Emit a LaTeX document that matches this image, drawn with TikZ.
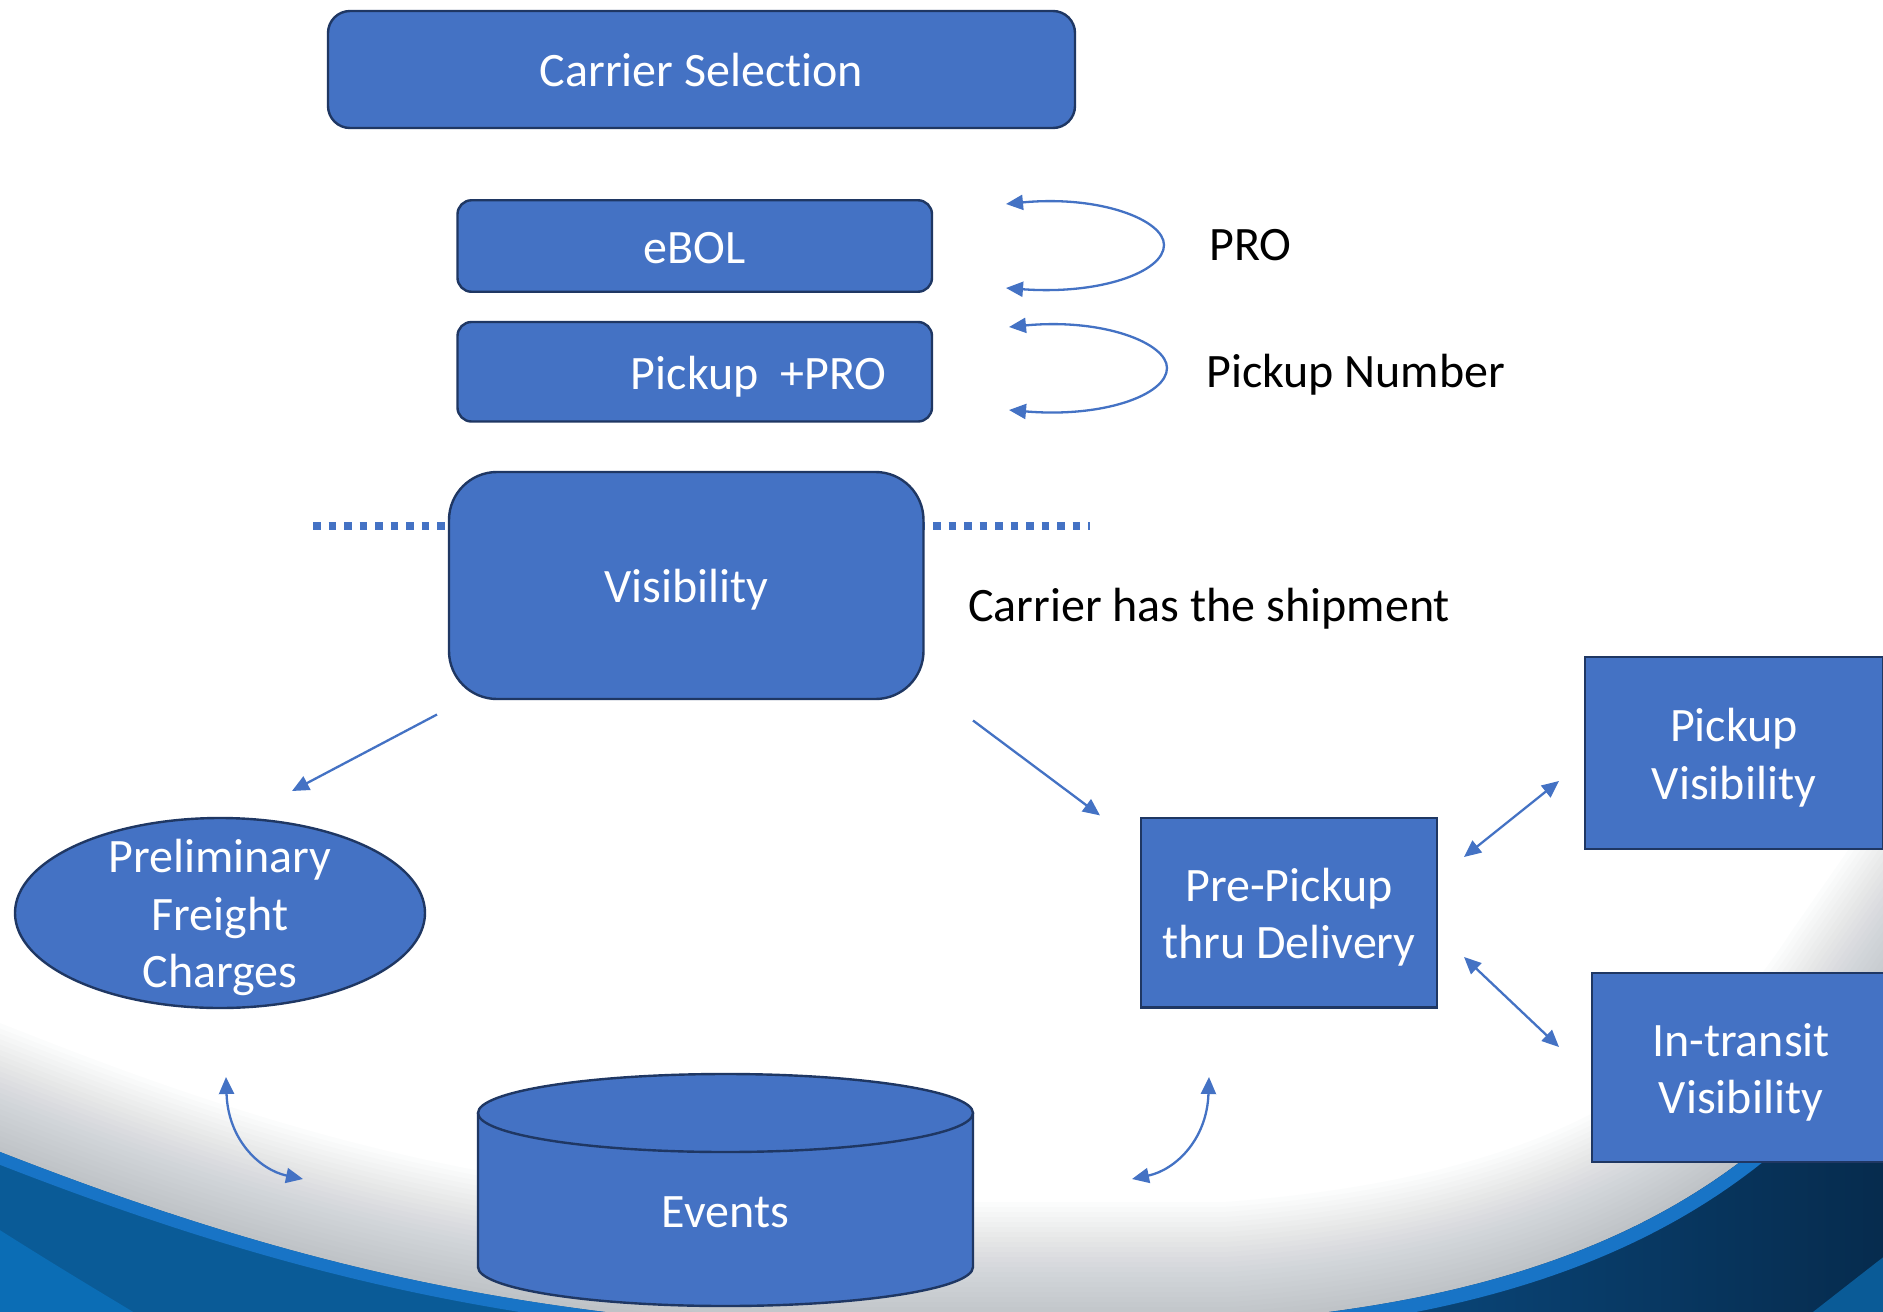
\documentclass[tikz,border=0pt]{standalone}
\usepackage{fontspec}
\setmainfont{Carlito}[Ligatures={NoCommon}]
\usetikzlibrary{arrows.meta,shapes.geometric}

\definecolor{boxfill}{HTML}{4472C4}
\definecolor{boxedge}{HTML}{1F3763}
\definecolor{linkblue}{HTML}{4472C4}
\definecolor{shadowgray}{HTML}{7D8893}
\definecolor{swoopmid}{HTML}{0A5B97}
\definecolor{swooplight}{HTML}{0B6DB5}
\definecolor{swoopbright}{HTML}{1874C6}
\definecolor{swoopnavyA}{HTML}{0B4F88}
\definecolor{swoopnavyB}{HTML}{062B4D}

% fixed line box so every label sits on the same baseline
\newcommand\tstrut{\rule[-0.2em]{0pt}{1.12em}}

\tikzset{
  bigtext/.style={font=\fontsize{48}{57.5}\selectfont},
  flowbox/.style={draw=boxedge, line width=2.4pt, fill=boxfill, text=white,
    bigtext, align=center, inner sep=0pt},
  plainlabel/.style={text=black, bigtext, inner sep=0pt, anchor=west},
  conn/.style={draw=linkblue, line width=2.3pt, -{Triangle[length=17pt,width=15pt]}},
  twoway/.style={draw=linkblue, line width=2.3pt,
    {Triangle[length=17pt,width=15pt]}-{Triangle[length=17pt,width=15pt]}},
}

\begin{document}
\begin{tikzpicture}[x=1pt,y=-1pt]
\useasboundingbox (0,0) rectangle (1883,1312);
\fill[white] (0,0) rectangle (1883,1312);

% soft shadow along the lower sweep
\begin{scope}
  \clip (0,0) rectangle (1883,1312);
  \foreach \i in {1,...,24} {
    \draw[line width=10*\i pt, shadowgray, opacity=0.022]
      (-205,1072) -- (-5,1150) .. controls (250,1250) and (450,1300) .. (700,1322)
      -- (1230,1322) .. controls (1530,1300) and (1750,1215) .. (1890,1000)
      -- (2000,842);
  }
\end{scope}

% left sweep
\fill[swoopmid] (-5,1150) .. controls (250,1250) and (450,1300) .. (700,1322)
  -- (-5,1322) -- cycle;
\fill[swooplight] (-5,1227) .. controls (50,1262) and (100,1292) .. (150,1322)
  -- (-5,1322) -- cycle;
\begin{scope}
  \clip (-5,1150) .. controls (250,1250) and (450,1300) .. (700,1322)
    -- (-5,1322) -- cycle;
  \draw[line width=24pt, swoopbright]
    (-5,1150) .. controls (250,1250) and (450,1300) .. (700,1322);
\end{scope}

% right sweep
\shade[left color=swoopnavyA, right color=swoopnavyB]
  (1230,1322) .. controls (1530,1300) and (1750,1215) .. (1890,1000)
  -- (1890,1322) -- cycle;
\begin{scope}
  \clip (1230,1322) .. controls (1530,1300) and (1750,1215) .. (1890,1000)
    -- (1890,1322) -- cycle;
  \draw[line width=28pt, swoopbright]
    (1230,1322) .. controls (1530,1300) and (1750,1215) .. (1890,1000);
  \fill[swoopmid] (1800,1322) .. controls (1835,1295) and (1860,1275) .. (1890,1252)
    -- (1890,1322) -- cycle;
\end{scope}

% dotted divider behind the visibility box
\draw[linkblue, line width=8pt, dash pattern=on 7.5pt off 8pt]
  (313,526) -- (1090,526);

% upper process boxes
\node[flowbox, rounded corners=22pt, minimum width=747pt, minimum height=117pt]
  (carrier) at (701.5,69.5) {\tstrut Carrier Selection};
\node[flowbox, rounded corners=14pt, minimum width=474.5pt, minimum height=91.5pt]
  (ebol) at (694.75,246) {\tstrut eBOL};
\node[flowbox, rounded corners=14pt, minimum width=474.5pt, minimum height=99.5pt]
  (pickpro) at (694.75,371.75) {\hspace*{128pt}\tstrut Pickup\ \ +PRO};
\node[flowbox, rounded corners=48pt, minimum width=474.5pt, minimum height=227pt]
  (visib) at (686.25,585.5) {\tstrut Visibility};

% side notes
\node[plainlabel] (pro) at (1209,243) {\tstrut PRO};
\node[plainlabel] (picknum) at (1206,370) {\tstrut Pickup Number};
\node[plainlabel] (hasship) at (968,604) {\tstrut Carrier has the shipment};

% loop arrows beside the upper boxes
\coordinate (proA) at (1006,204);
\coordinate (proB) at (1006,288);
\coordinate (pnA) at (1009,327);
\coordinate (pnB) at (1009,410);
\draw[twoway] (proA) .. controls (1100,195) and (1164,220) .. (1164,245)
  .. controls (1164,272) and (1100,295) .. (proB);
\draw[twoway] (pnA) .. controls (1103,318) and (1167,343) .. (1167,368)
  .. controls (1167,395) and (1103,418) .. (pnB);

% lower shapes
\node[flowbox, ellipse, minimum width=410pt, minimum height=190pt,
  label={[text=white, bigtext, align=center]center:\tstrut Preliminary\\Freight\\\tstrut Charges}]
  (prelim) at (220,913) {};
\node[flowbox, minimum width=296.5pt, minimum height=189.5pt]
  (predeliv) at (1289,912.75) {\tstrut Pre-Pickup\\\tstrut thru Delivery};
\node[flowbox, minimum width=298pt, minimum height=192pt]
  (pickvis) at (1734,753) {\tstrut Pickup\\\tstrut Visibility};
\node[flowbox, minimum width=298pt, minimum height=189pt]
  (transvis) at (1741,1067.5) {\tstrut In-transit\\\tstrut Visibility};

% events store (cylinder)
\fill[boxfill] (478,1113) -- (478,1267)
  .. controls (478,1288.5) and (588.8,1306) .. (725.5,1306)
  .. controls (862.2,1306) and (973,1288.5) .. (973,1267) -- (973,1113) -- cycle;
\draw[boxedge, line width=2.4pt] (478,1113) -- (478,1267)
  .. controls (478,1288.5) and (588.8,1306) .. (725.5,1306)
  .. controls (862.2,1306) and (973,1288.5) .. (973,1267) -- (973,1113);
\filldraw[fill=boxfill, draw=boxedge, line width=2.4pt]
  (725.5,1113) ellipse [x radius=247.5, y radius=39];
\node[text=white, bigtext] (events) at (725.5,1210) {\tstrut Events};

% connectors
\coordinate (visL) at (437,714.5);
\coordinate (prelimT) at (292,791);
\coordinate (visR) at (973,720.5);
\coordinate (predT) at (1100,815.4);
\draw[conn] (visL) -- (prelimT);
\draw[conn] (visR) -- (predT);

\coordinate (predR1) at (1464,857);
\coordinate (pickvisL) at (1559,781);
\coordinate (predR2) at (1464,957);
\coordinate (transL) at (1559,1047);
\draw[twoway] (predR1) -- (pickvisL);
\draw[twoway] (predR2) -- (transL);

\coordinate (prelimB) at (226,1077);
\coordinate (eventsL) at (303,1179);
\coordinate (predB) at (1209,1077);
\coordinate (eventsR) at (1132,1179);
\draw[twoway] (prelimB) .. controls (228,1140) and (260,1170) .. (eventsL);
\draw[twoway] (predB) .. controls (1207,1140) and (1175,1170) .. (eventsR);
\end{tikzpicture}
\end{document}
